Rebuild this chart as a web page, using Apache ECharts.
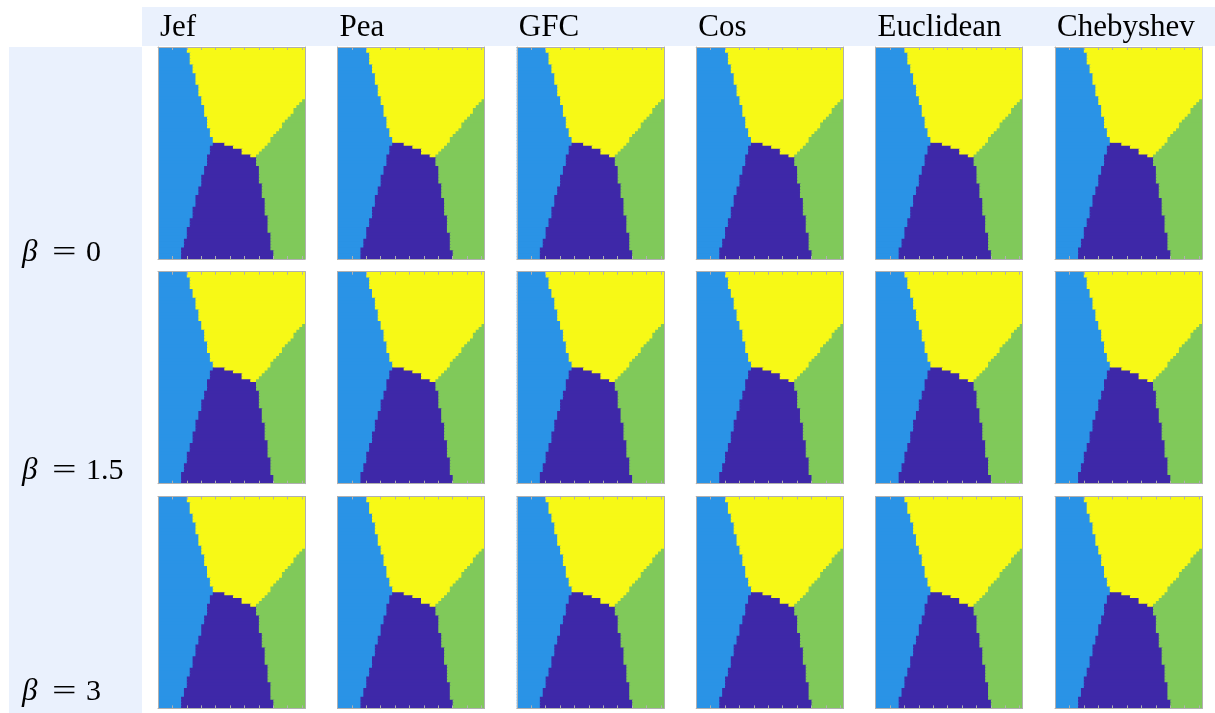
<!DOCTYPE html>
<html><head><meta charset="utf-8">
<script src="https://cdn.jsdelivr.net/npm/echarts/dist/echarts.min.js"></script>
<style>html,body{margin:0;padding:0;background:#fff}#c{width:1215px;height:713px}</style>
</head><body><div id="c"></div>
<script>
// ---------- data ----------
const methods = ['Jef', 'Pea', 'GFC', 'Cos', 'Euclidean', 'Chebyshev'];
const betas = ['0', '1.5', '3'];
const NCOL = 51;
// classes: 1 = purple, 2 = blue, 3 = green, 4 = yellow
// per row (top to bottom): blue cells are [0, blueEnd), purple [blueEnd, purpleEnd),
// yellow [purpleEnd, yellowEnd), green [yellowEnd, NCOL)
const blueEnd = [10,10,11,11,11,11,12,12,12,13,13,13,13,14,14,14,14,15,15,15,16,16,16,16,17,17,17,17,18,18,18,19,19,19,18,18,18,17,17,17,17,16,16,16,15,15,15,15,14,14,14,13,13,13,13,12,12,12,12,11,11,11,10,10,10,10,9,9,9,8,8,8,8];
const purpleEnd = [10,10,11,11,11,11,12,12,12,13,13,13,13,14,14,14,14,15,15,15,16,16,16,16,17,17,17,17,18,18,18,19,19,23,26,29,29,32,34,34,34,35,35,35,35,35,35,36,36,36,36,36,37,37,37,37,37,37,38,38,38,38,38,38,39,39,39,39,39,39,40,40,40];
const yellowEnd = [51,51,51,51,51,51,51,51,51,51,51,51,51,51,51,51,51,51,50,49,48,47,47,46,45,44,43,43,42,41,40,39,39,38,37,36,35,34,34,34,34,35,35,35,35,35,35,36,36,36,36,36,37,37,37,37,37,37,38,38,38,38,38,38,39,39,39,39,39,39,40,40,40];
const classColors = { 1: '#3e28a8', 2: '#2a93e6', 3: '#80c95a', 4: '#f7f916' };

// ---------- build runs: [startCol, endCol, row, class] ----------
const runs = [];
for (let r = 0; r < blueEnd.length; r++) {
  const bounds = [[0, blueEnd[r], 2], [blueEnd[r], purpleEnd[r], 1], [purpleEnd[r], yellowEnd[r], 4], [yellowEnd[r], NCOL, 3]];
  bounds.forEach(([s, e, cls]) => { if (e > s) runs.push([s, e, r, cls]); });
}
const xCats = Array.from({ length: NCOL }, (_, i) => String(i + 1));
const yCats = Array.from({ length: blueEnd.length }, (_, i) => String(i + 1));

const PANEL_W = 147, PANEL_H = 212, X0 = 158, DX = 179.4, Y0 = 47, DY = 224.7;
const BAND = '#eaf1fd', BOX = '#b0b0b0';
const FONT = '"Liberation Serif", "DejaVu Serif", serif';

// each run is extended 1px right/down; later runs (drawn left->right, top->bottom) cover the overlap,
// which removes anti-aliasing seams between neighbouring cells
function renderRun(params, api) {
  const s = api.value(0), e = api.value(1), r = api.value(2), cls = api.value(3);
  const p0 = api.coord([s, r]);
  const p1 = api.coord([e - 1, r]);
  const sz = api.size([1, 1]);
  return {
    type: 'rect',
    shape: { x: p0[0] - sz[0] / 2, y: p0[1] - sz[1] / 2, width: p1[0] - p0[0] + sz[0] + 1, height: sz[1] + 1 },
    style: { fill: classColors[cls] }
  };
}

const grid = [], xAxis = [], yAxis = [], series = [];
let k = 0;
betas.forEach((b, i) => {
  methods.forEach((m, j) => {
    grid.push({ left: X0 + DX * j, top: Y0 + DY * i, width: PANEL_W, height: PANEL_H, containLabel: false });
    ['bottom', 'top'].forEach(pos => xAxis.push({
      type: 'category', data: xCats, gridIndex: k, position: pos, boundaryGap: true, z: 10,
      axisLine: { show: true, onZero: false, lineStyle: { color: BOX, width: 1 } },
      axisTick: { show: true, inside: true, interval: 4, length: 3, lineStyle: { color: BOX } },
      axisLabel: { show: false }, splitLine: { show: false }
    }));
    ['left', 'right'].forEach(pos => yAxis.push({
      type: 'category', data: yCats, gridIndex: k, position: pos, inverse: true, boundaryGap: true, z: 10,
      axisLine: { show: true, onZero: false, lineStyle: { color: BOX, width: 1 } },
      axisTick: { show: false }, axisLabel: { show: false }, splitLine: { show: false }
    }));
    series.push({
      type: 'custom', xAxisIndex: 2 * k, yAxisIndex: 2 * k, data: runs, clip: true,
      encode: { x: [0, 1], y: 2 }, renderItem: renderRun, silent: true
    });
    k++;
  });
});

const graphic = [
  { type: 'rect', shape: { x: 142, y: 7, width: 1073, height: 39 }, style: { fill: BAND }, silent: true },
  { type: 'rect', shape: { x: 9, y: 47, width: 133, height: 666 }, style: { fill: BAND }, silent: true }
];
methods.forEach((m, j) => graphic.push({
  type: 'text', x: X0 + DX * j + 2, y: 28,
  style: { text: m, font: '31px ' + FONT, fill: '#000', verticalAlign: 'middle' }
}));
const betaMid = [253, 471, 692];
betas.forEach((b, i) => {
  graphic.push({ type: 'text', x: 22, y: betaMid[i],
    style: { text: 'β', font: 'italic 31px ' + FONT, fill: '#000', verticalAlign: 'middle' } });
  graphic.push({ type: 'text', x: 52, y: betaMid[i], scaleX: 1.45, originX: 0,
    style: { text: '=', font: '30px ' + FONT, fill: '#000', verticalAlign: 'middle' } });
  graphic.push({ type: 'text', x: 86, y: betaMid[i],
    style: { text: b, font: '30px ' + FONT, fill: '#000', verticalAlign: 'middle' } });
});

const chart = echarts.init(document.getElementById('c'), null, { renderer: 'canvas' });
chart.setOption({
  animation: false,
  backgroundColor: '#fff',
  grid, xAxis, yAxis, series, graphic
});
</script>
</body></html>
